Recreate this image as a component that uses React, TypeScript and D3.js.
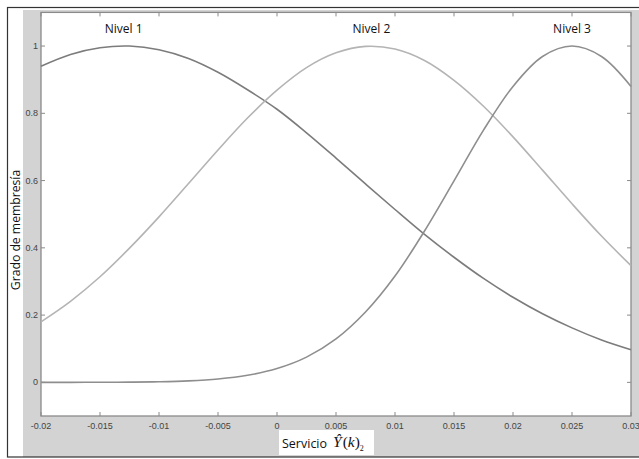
import React from "react";
import * as d3 from "d3";

const xValues = [-0.02, -0.0175, -0.015, -0.0125, -0.01, -0.0075, -0.005, -0.0025, 0, 0.0025, 0.005, 0.0075, 0.01, 0.0125, 0.015, 0.0175, 0.02, 0.0225, 0.025, 0.0275, 0.03];
const nivel1 = [0.94, 0.975, 0.995, 1.0, 0.989, 0.963, 0.922, 0.87, 0.812, 0.742, 0.667, 0.59, 0.514, 0.44, 0.372, 0.309, 0.253, 0.204, 0.162, 0.126, 0.097];
const nivel2 = [0.18, 0.241, 0.314, 0.399, 0.492, 0.591, 0.691, 0.786, 0.869, 0.936, 0.98, 0.999, 0.991, 0.957, 0.898, 0.821, 0.73, 0.631, 0.531, 0.435, 0.347];
const nivel3 = [0.0, 0.0001, 0.0003, 0.0007, 0.0019, 0.0045, 0.01, 0.021, 0.041, 0.075, 0.129, 0.209, 0.316, 0.45, 0.599, 0.75, 0.88, 0.969, 1.0, 0.969, 0.88];

const xTicks = [-0.02, -0.015, -0.01, -0.005, 0, 0.005, 0.01, 0.015, 0.02, 0.025, 0.03];
const xTickLabels = ["-0.02", "-0.015", "-0.01", "-0.005", "0", "0.005", "0.01", "0.015", "0.02", "0.025", "0.03"];
const yTicks = [0, 0.2, 0.4, 0.6, 0.8, 1];
const yTickLabels = ["0", "0.2", "0.4", "0.6", "0.8", "1"];

const seriesNames = ["Nivel 1", "Nivel 2", "Nivel 3"];
const seriesPeaks = [-0.013, 0.008, 0.025];

const W = 639;
const H = 459;
const plot = { left: 41, right: 631, top: 12.4, bottom: 416 };

export default function App() {
  const x = d3.scaleLinear().domain([-0.02, 0.03]).range([plot.left, plot.right]);
  const y = d3.scaleLinear().domain([-0.1, 1.1]).range([plot.bottom, plot.top]);
  const line = d3
    .line<[number, number]>()
    .x((d) => x(d[0]))
    .y((d) => y(d[1]))
    .curve(d3.curveCatmullRom.alpha(0.5));

  const series = [nivel1, nivel2, nivel3];
  const colors = ["#7c7c7c", "#b4b4b4", "#8e8e8e"];
  const axisColor = "#8a8a8a";
  const tickLen = 4;
  const labelFont = "'Open Sans', 'DejaVu Sans', sans-serif";
  const tickFont = "'Liberation Sans', Arial, sans-serif";

  return (
    <div style={{ position: "absolute", left: 0, top: 0 }}>
      <svg width={W} height={H} style={{ display: "block" }}>
        <rect x={0} y={0} width={W} height={H} fill="#ffffff" />
        {/* gray figure background */}
        <rect x={23} y={10} width={W - 23} height={447} fill="#d3d3d3" />
        {/* plot area */}
        <rect
          x={plot.left}
          y={plot.top}
          width={plot.right - plot.left}
          height={plot.bottom - plot.top}
          fill="#ffffff"
          stroke={axisColor}
          strokeWidth={1.3}
        />
        {/* outer frame */}
        <rect x={7.5} y={7.5} width={W + 5} height={449.5} fill="none" stroke="#333" strokeWidth={1.2} />

        {/* x ticks */}
        {xTicks.map((t, i) => (
          <g key={"xt" + i}>
            <line x1={x(t)} x2={x(t)} y1={plot.bottom} y2={plot.bottom - tickLen} stroke={axisColor} strokeWidth={1} />
            <line x1={x(t)} x2={x(t)} y1={plot.top} y2={plot.top + tickLen} stroke={axisColor} strokeWidth={1} />
            <text
              x={x(t)}
              y={plot.bottom + 13}
              textAnchor="middle"
              fontFamily={tickFont}
              fontSize={9}
              fill="#444"
            >
              {xTickLabels[i]}
            </text>
          </g>
        ))}
        {/* y ticks */}
        {yTicks.map((t, i) => (
          <g key={"yt" + i}>
            <line x1={plot.left} x2={plot.left + tickLen} y1={y(t)} y2={y(t)} stroke={axisColor} strokeWidth={1} />
            <line x1={plot.right} x2={plot.right - tickLen} y1={y(t)} y2={y(t)} stroke={axisColor} strokeWidth={1} />
            <text
              x={plot.left - 3}
              y={y(t) + 3}
              textAnchor="end"
              fontFamily={tickFont}
              fontSize={9}
              fill="#444"
            >
              {yTickLabels[i]}
            </text>
          </g>
        ))}

        {/* curves */}
        <g>
          {series.map((s, k) => (
            <path
              key={"s" + k}
              d={line(xValues.map((xv, i) => [xv, s[i]] as [number, number])) || ""}
              fill="none"
              stroke={colors[k]}
              strokeWidth={1.6}
            />
          ))}
        </g>

        {/* series labels */}
        {seriesNames.map((n, k) => (
          <text
            key={"n" + k}
            x={x(seriesPeaks[k])}
            y={33}
            textAnchor="middle"
            fontFamily={labelFont}
            fontSize={12}
            fill="#111"
          >
            {n}
          </text>
        ))}

        {/* x axis label */}
        <rect x={279} y={430} width={95} height={25} fill="#ffffff" />
        <text x={282} y={448} fontFamily={labelFont} fontSize={12.5} fill="#111">
          Servicio
        </text>
        <text x={333} y={447} fontFamily="'Liberation Serif', 'DejaVu Serif', serif" fontSize={15.5} fill="#111">
          <tspan fontStyle="italic">Ŷ</tspan>
          <tspan dx={1}>(</tspan>
          <tspan fontStyle="italic">k</tspan>
          <tspan>)</tspan>
          <tspan fontSize={8} dy={4}>2</tspan>
        </text>

        {/* y axis label */}
        <text
          transform="translate(19.5,230) rotate(-90)"
          textAnchor="middle"
          fontFamily={labelFont}
          fontSize={12.2}
          fill="#111"
        >
          Grado de membresía
        </text>
      </svg>
    </div>
  );
}
